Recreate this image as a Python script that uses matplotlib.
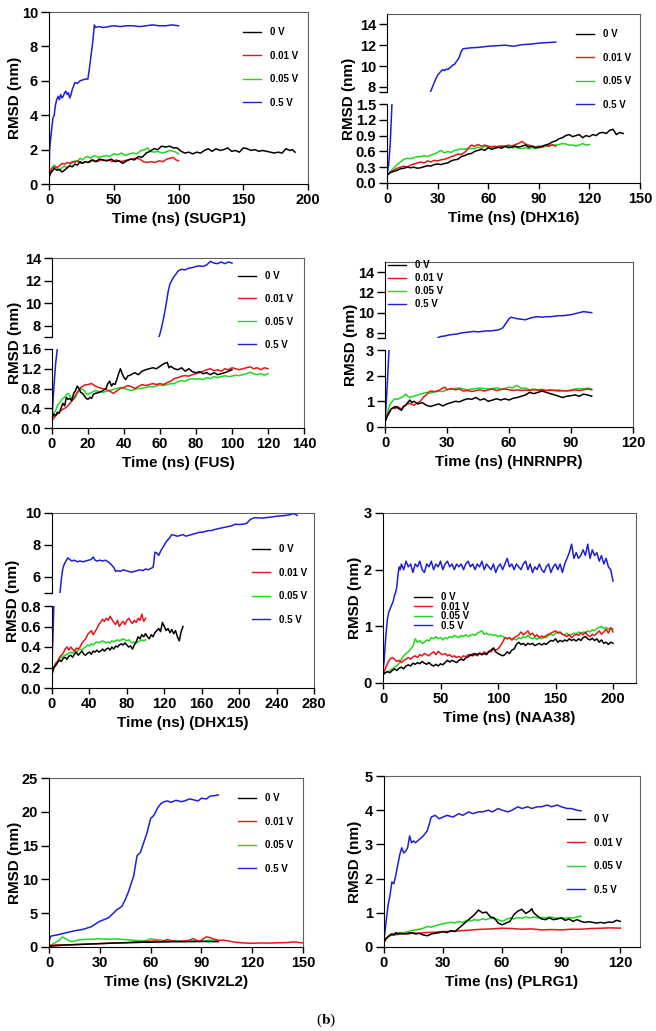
import matplotlib.pyplot as plt
from matplotlib.lines import Line2D

plt.rcParams['font.family'] = ['Liberation Sans', 'DejaVu Sans']
plt.rcParams['font.weight'] = 'bold'
plt.rcParams['axes.labelweight'] = 'bold'
plt.rcParams['mathtext.fontset'] = 'stix'

W, H = 656, 1031

LABELS = ['0 V', '0.01 V', '0.05 V', '0.5 V']
COLORS = ['#000000', '#e8141c', '#1fd81f', '#1f1fd8']

# ---- data: (time ns, RMSD nm) ----
sugp1_0v = [(0,0.35),(1,0.6),(2,0.7),(4,0.9),(6,0.8),(8,0.85),(10,0.7),(12,0.8),(14,0.95),(16,1.05),(18,1.0),(20,1.15),(22,1.1),(24,1.3),(26,1.2),(28,1.3),(30,1.25),(33,1.4),(36,1.3),(39,1.45),(42,1.4),(45,1.35),(48,1.45),(51,1.3),(54,1.35),(57,1.2),(60,1.35),(63,1.45),(66,1.4),(69,1.6),(72,1.55),(75,1.8),(78,1.9),(81,2.05),(84,2.0),(87,2.2),(90,2.15),(93,2.2),(96,2.1),(99,2.1),(102,1.9),(105,1.8),(108,1.85),(111,1.75),(114,1.85),(117,1.8),(120,1.95),(123,2.05),(126,1.9),(129,2.05),(132,1.95),(135,2.0),(138,2.1),(141,1.9),(144,1.95),(147,1.85),(150,2.1),(153,2.05),(156,1.95),(159,2.0),(162,1.9),(165,1.95),(168,1.9),(171,1.85),(174,1.8),(177,1.85),(180,1.8),(183,2.05),(186,1.95),(188,2.0),(190,1.85)]
sugp1_001v = [(0,0.45),(2,0.9),(4,1.0),(6,0.95),(8,1.05),(10,1.2),(12,1.15),(14,1.25),(16,1.2),(18,1.3),(20,1.25),(22,1.35),(25,1.2),(28,1.3),(31,1.25),(34,1.4),(37,1.3),(40,1.4),(43,1.35),(46,1.4),(49,1.3),(52,1.4),(55,1.3),(58,1.35),(61,1.4),(64,1.45),(67,1.5),(70,1.45),(73,1.3),(76,1.25),(79,1.3),(82,1.25),(85,1.35),(88,1.3),(91,1.45),(94,1.5),(96,1.55),(98,1.4),(100,1.35)]
sugp1_005v = [(0,0.4),(2,0.9),(4,1.1),(6,0.95),(8,0.8),(10,0.95),(12,1.05),(14,0.9),(16,1.1),(18,1.25),(20,1.35),(22,1.3),(24,1.5),(26,1.4),(28,1.55),(30,1.6),(32,1.5),(35,1.65),(38,1.55),(41,1.6),(44,1.65),(47,1.6),(50,1.75),(53,1.7),(56,1.8),(59,1.65),(62,1.75),(65,1.8),(68,1.75),(71,1.95),(74,2.0),(76,2.1),(78,1.9),(81,1.85),(84,1.9),(87,1.8),(90,1.85),(93,1.95),(96,1.9),(98,1.85),(100,1.75)]
sugp1_05v = [(0,0.3),(0.5,2.0),(1.5,2.8),(3,3.8),(4,4.0),(5,4.6),(6,4.9),(7,5.1),(8,4.9),(9,5.2),(10,5.0),(11,5.1),(12,5.3),(13,5.4),(14,5.2),(15,5.3),(16,5.0),(17,5.2),(18,5.5),(19,5.7),(20,5.9),(22,5.85),(24,6.0),(26,6.05),(28,6.1),(30,6.1),(31,6.6),(32,7.2),(33,7.8),(34,8.4),(35,9.25),(36,9.1),(38,9.15),(42,9.1),(46,9.15),(50,9.2),(55,9.15),(60,9.2),(65,9.2),(70,9.15),(75,9.2),(80,9.25),(85,9.2),(90,9.2),(95,9.25),(100,9.2)]

dhx16_0v = [(0,0.15),(2,0.2),(4,0.22),(6,0.24),(8,0.27),(10,0.28),(12,0.3),(14,0.29),(16,0.3),(18,0.28),(20,0.29),(22,0.31),(24,0.33),(26,0.32),(28,0.35),(30,0.36),(32,0.35),(34,0.37),(36,0.38),(38,0.42),(40,0.44),(42,0.45),(44,0.5),(46,0.52),(48,0.55),(50,0.56),(52,0.6),(54,0.62),(56,0.64),(58,0.62),(60,0.67),(62,0.64),(64,0.66),(66,0.68),(68,0.66),(70,0.7),(72,0.67),(74,0.68),(76,0.7),(78,0.68),(80,0.7),(82,0.72),(84,0.68),(86,0.7),(88,0.67),(90,0.68),(92,0.7),(94,0.72),(96,0.74),(98,0.78),(100,0.8),(102,0.84),(104,0.86),(106,0.9),(108,0.92),(110,0.88),(112,0.9),(114,0.92),(116,0.86),(118,0.9),(120,0.88),(122,0.92),(124,0.9),(126,0.95),(128,0.96),(130,0.94),(132,1.0),(134,1.02),(136,0.92),(138,0.96),(140,0.94)]
dhx16_001v = [(0,0.15),(2,0.2),(4,0.24),(6,0.28),(8,0.3),(10,0.32),(12,0.3),(14,0.34),(16,0.36),(18,0.38),(20,0.4),(22,0.38),(24,0.42),(26,0.4),(28,0.43),(30,0.42),(32,0.44),(34,0.45),(36,0.47),(38,0.5),(40,0.52),(42,0.55),(44,0.54),(46,0.58),(48,0.65),(50,0.72),(52,0.7),(54,0.73),(56,0.7),(58,0.72),(60,0.7),(62,0.68),(64,0.7),(66,0.67),(68,0.7),(70,0.69),(72,0.72),(74,0.7),(76,0.73),(78,0.75),(80,0.79),(82,0.74),(84,0.72),(86,0.7),(88,0.68),(90,0.7),(92,0.68),(94,0.72),(96,0.7),(98,0.73),(100,0.7)]
dhx16_005v = [(0,0.15),(2,0.22),(4,0.28),(6,0.35),(8,0.4),(10,0.45),(12,0.47),(14,0.46),(16,0.48),(18,0.5),(20,0.5),(22,0.52),(24,0.5),(26,0.53),(28,0.55),(30,0.58),(32,0.62),(34,0.57),(36,0.6),(38,0.58),(40,0.62),(42,0.63),(44,0.65),(46,0.64),(48,0.66),(50,0.65),(52,0.66),(54,0.68),(56,0.66),(58,0.7),(60,0.68),(62,0.7),(64,0.67),(66,0.7),(68,0.71),(70,0.69),(72,0.7),(74,0.67),(76,0.68),(78,0.66),(80,0.65),(82,0.67),(84,0.65),(86,0.67),(88,0.65),(90,0.67),(92,0.68),(94,0.7),(96,0.7),(98,0.72),(100,0.72),(102,0.73),(104,0.75),(106,0.74),(108,0.72),(110,0.72),(112,0.7),(114,0.72),(116,0.75),(118,0.72),(120,0.73)]
dhx16_05v = [(0,0.15),(1,0.35),(2,0.8),(3,1.55),(26,7.58),(27,8.0),(28,8.4),(29,8.8),(30,9.1),(31,9.3),(32,9.5),(33,9.65),(34,9.55),(35,9.7),(36,9.65),(37,9.8),(38,9.9),(39,10.1),(40,10.15),(41,10.4),(42,10.6),(43,10.9),(44,11.4),(45,11.65),(47,11.7),(50,11.75),(55,11.8),(60,11.9),(65,11.95),(70,12.0),(75,11.9),(80,12.05),(85,12.1),(90,12.2),(95,12.25),(100,12.3)]

fus_0v = [(0,0.2),(1,0.28),(2,0.25),(3,0.32),(4,0.3),(5,0.4),(6,0.5),(7,0.45),(8,0.62),(9,0.58),(10,0.6),(11,0.55),(12,0.7),(13,0.75),(14,0.85),(15,0.8),(16,0.72),(17,0.7),(18,0.65),(19,0.6),(20,0.58),(21,0.62),(22,0.6),(23,0.68),(24,0.7),(26,0.72),(28,0.75),(30,0.8),(31,0.9),(32,0.95),(33,0.85),(34,0.9),(35,0.88),(36,0.98),(37,1.1),(38,1.2),(39,1.1),(40,1.02),(41,0.98),(42,1.05),(44,1.08),(46,1.12),(48,1.08),(50,1.15),(52,1.18),(54,1.2),(56,1.22),(58,1.2),(60,1.25),(62,1.3),(64,1.33),(65,1.22),(66,1.25),(68,1.2),(70,1.18),(72,1.22),(74,1.15),(76,1.2),(78,1.14),(80,1.12),(82,1.14),(84,1.1),(86,1.12),(88,1.08),(90,1.12),(92,1.08),(94,1.1),(96,1.12),(98,1.15),(100,1.18)]
fus_001v = [(0,0.15),(2,0.25),(4,0.32),(6,0.38),(8,0.42),(10,0.5),(12,0.6),(14,0.72),(16,0.82),(18,0.87),(20,0.88),(22,0.9),(24,0.85),(26,0.82),(28,0.8),(30,0.78),(32,0.75),(34,0.7),(36,0.75),(38,0.8),(40,0.82),(42,0.86),(44,0.84),(46,0.8),(48,0.84),(50,0.88),(52,0.86),(54,0.88),(56,0.9),(58,0.88),(60,0.9),(62,0.88),(64,0.92),(66,0.95),(68,1.0),(70,1.02),(72,1.05),(74,1.06),(76,1.05),(78,1.08),(80,1.1),(82,1.12),(84,1.15),(86,1.18),(88,1.2),(90,1.16),(92,1.18),(94,1.15),(96,1.2),(98,1.18),(100,1.22),(102,1.2),(104,1.18),(106,1.2),(108,1.22),(110,1.24),(112,1.2),(114,1.22),(116,1.18),(118,1.22),(120,1.2)]
fus_005v = [(0,0.2),(1,0.3),(2,0.35),(3,0.45),(4,0.5),(5,0.55),(6,0.6),(7,0.62),(8,0.68),(9,0.7),(10,0.65),(11,0.6),(12,0.58),(13,0.62),(14,0.7),(15,0.75),(16,0.8),(17,0.78),(18,0.76),(19,0.7),(20,0.68),(22,0.72),(24,0.76),(26,0.74),(28,0.72),(30,0.74),(32,0.76),(34,0.78),(36,0.8),(38,0.82),(40,0.8),(42,0.78),(44,0.76),(46,0.78),(48,0.8),(50,0.8),(52,0.82),(54,0.84),(56,0.83),(58,0.85),(60,0.87),(62,0.86),(64,0.88),(66,0.9),(68,0.9),(70,0.94),(72,0.96),(74,0.95),(76,0.98),(78,1.0),(80,0.99),(82,1.0),(84,0.98),(86,1.02),(88,1.0),(90,1.04),(92,1.02),(94,1.04),(96,1.06),(98,1.04),(100,1.05),(102,1.07),(104,1.06),(106,1.08),(108,1.1),(110,1.13),(112,1.1),(114,1.08),(116,1.1),(118,1.07),(120,1.1)]
fus_05v = [(0,0.2),(1,0.8),(2,1.3),(3,1.62),(59.5,7.0),(60.5,7.6),(61.5,8.3),(62.5,9.1),(63.5,10.0),(64.5,11.0),(65.5,11.7),(66.5,12.0),(68,12.4),(69,12.6),(70,12.85),(72,13.0),(74,12.95),(76,13.1),(78,13.15),(80,13.25),(82,13.3),(84,13.25),(86,13.4),(88,13.7),(90,13.55),(92,13.5),(94,13.65),(96,13.5),(98,13.65),(100,13.55)]

hnrnpr_0v = [(0,0.2),(1,0.4),(2,0.55),(3,0.7),(4,0.75),(5,0.8),(6,0.75),(7,0.7),(8,0.65),(9,0.8),(10,0.85),(11,0.95),(12,1.05),(13,0.95),(14,1.0),(15,0.95),(16,0.9),(18,0.95),(20,0.85),(22,0.8),(24,0.85),(26,0.9),(28,0.82),(30,0.9),(32,0.95),(34,1.0),(36,0.98),(38,1.05),(40,1.1),(42,1.08),(44,1.15),(46,1.05),(48,1.1),(50,1.0),(52,1.05),(54,1.1),(56,1.05),(58,1.1),(60,1.05),(62,1.12),(64,1.15),(66,1.2),(68,1.25),(70,1.35),(72,1.3),(74,1.35),(76,1.4),(78,1.35),(80,1.3),(82,1.25),(84,1.2),(86,1.15),(88,1.2),(90,1.22),(92,1.25),(94,1.2),(96,1.28),(98,1.25),(100,1.2)]
hnrnpr_001v = [(0,0.2),(1,0.45),(2,0.6),(3,0.7),(4,0.75),(5,0.72),(6,0.8),(7,0.75),(8,0.7),(9,0.8),(10,0.85),(11,0.9),(12,0.92),(13,0.88),(14,0.85),(15,0.9),(16,0.95),(17,1.0),(18,1.1),(19,1.2),(20,1.25),(21,1.35),(22,1.4),(24,1.38),(26,1.42),(28,1.52),(29,1.55),(30,1.45),(32,1.5),(34,1.45),(36,1.48),(38,1.4),(40,1.42),(42,1.38),(44,1.42),(46,1.45),(48,1.4),(50,1.45),(52,1.48),(54,1.42),(56,1.46),(58,1.48),(60,1.45),(62,1.42),(64,1.45),(66,1.42),(68,1.44),(70,1.42),(72,1.45),(74,1.43),(76,1.45),(78,1.42),(80,1.44),(82,1.42),(84,1.4),(86,1.42),(88,1.4),(90,1.42),(92,1.45),(94,1.42),(96,1.45),(98,1.48),(100,1.45)]
hnrnpr_005v = [(0,0.2),(1,0.5),(2,0.8),(3,0.95),(4,1.05),(5,1.1),(6,1.08),(7,1.12),(8,1.15),(9,1.2),(10,1.28),(11,1.2),(12,1.15),(13,1.18),(14,1.2),(15,1.22),(16,1.25),(17,1.28),(18,1.3),(20,1.35),(22,1.32),(24,1.36),(26,1.4),(28,1.38),(30,1.45),(32,1.48),(34,1.5),(36,1.52),(38,1.48),(40,1.45),(42,1.48),(44,1.5),(46,1.52),(48,1.5),(50,1.48),(52,1.5),(54,1.52),(56,1.48),(58,1.5),(60,1.55),(62,1.52),(63,1.6),(64,1.62),(65,1.55),(66,1.5),(68,1.52),(70,1.45),(72,1.48),(74,1.45),(76,1.47),(78,1.42),(80,1.45),(82,1.43),(84,1.45),(86,1.4),(88,1.42),(90,1.44),(92,1.48),(94,1.5),(96,1.48),(98,1.52),(100,1.48)]
hnrnpr_05v = [(0,0.2),(0.5,0.8),(1,1.5),(1.5,2.3),(2,3.05),(25.8,7.55),(27,7.65),(29,7.7),(31,7.8),(33,7.85),(35,7.9),(37,8.0),(39,8.05),(41,8.1),(43,8.15),(45,8.1),(47,8.15),(49,8.2),(51,8.2),(53,8.25),(55,8.3),(57,8.5),(58,8.8),(59,9.1),(60,9.4),(61,9.55),(62,9.5),(64,9.4),(66,9.35),(68,9.3),(70,9.45),(72,9.55),(74,9.6),(76,9.55),(78,9.6),(80,9.6),(82,9.65),(84,9.7),(86,9.7),(88,9.75),(90,9.8),(92,9.9),(94,10.0),(96,10.1),(98,10.05),(100,10.0)]

dhx15_0v = [(0,0.13),(2,0.2),(4,0.22),(6,0.25),(8,0.27),(10,0.26),(12,0.29),(14,0.3),(16,0.28),(18,0.31),(20,0.32),(22,0.3),(24,0.33),(26,0.35),(28,0.32),(30,0.34),(32,0.36),(34,0.33),(36,0.32),(38,0.34),(40,0.35),(42,0.33),(44,0.36),(46,0.35),(48,0.37),(50,0.35),(52,0.36),(54,0.38),(56,0.36),(58,0.38),(60,0.39),(62,0.37),(64,0.4),(66,0.38),(68,0.41),(70,0.4),(72,0.42),(74,0.43),(76,0.42),(78,0.44),(80,0.42),(82,0.4),(84,0.41),(86,0.38),(88,0.42),(90,0.45),(92,0.5),(94,0.48),(96,0.52),(98,0.5),(100,0.53),(102,0.5),(104,0.48),(106,0.52),(108,0.5),(110,0.54),(112,0.56),(114,0.58),(116,0.55),(118,0.64),(120,0.6),(122,0.56),(124,0.58),(126,0.54),(128,0.57),(130,0.53),(132,0.56),(134,0.5),(136,0.46),(138,0.55),(140,0.6)]
dhx15_001v = [(0,0.15),(2,0.2),(4,0.24),(6,0.26),(8,0.3),(10,0.32),(12,0.34),(14,0.38),(16,0.4),(18,0.37),(20,0.4),(22,0.38),(24,0.36),(26,0.39),(28,0.38),(30,0.4),(32,0.44),(34,0.46),(36,0.48),(38,0.52),(40,0.54),(42,0.56),(44,0.52),(46,0.55),(48,0.58),(50,0.62),(52,0.64),(54,0.67),(56,0.65),(58,0.68),(60,0.66),(62,0.7),(64,0.67),(66,0.64),(68,0.62),(70,0.66),(72,0.6),(74,0.63),(76,0.65),(78,0.62),(80,0.66),(82,0.68),(84,0.65),(86,0.63),(88,0.66),(90,0.64),(92,0.68),(94,0.66),(96,0.72),(98,0.65),(100,0.68)]
dhx15_005v = [(0,0.15),(2,0.2),(4,0.24),(6,0.26),(8,0.28),(10,0.3),(12,0.31),(14,0.32),(16,0.33),(18,0.34),(20,0.35),(22,0.34),(24,0.36),(26,0.35),(28,0.37),(30,0.38),(32,0.37),(34,0.39),(36,0.4),(38,0.42),(40,0.41),(42,0.43),(44,0.42),(46,0.44),(48,0.45),(50,0.44),(52,0.45),(54,0.46),(56,0.45),(58,0.44),(60,0.45),(62,0.44),(64,0.46),(66,0.45),(68,0.46),(70,0.47),(72,0.46),(74,0.47),(76,0.48),(78,0.47),(80,0.46),(82,0.47),(84,0.45),(86,0.44),(88,0.45),(90,0.44),(92,0.45),(94,0.46),(96,0.47),(98,0.46),(100,0.47)]
dhx15_05v = [(0,0.25),(1,0.5),(2,0.82),(8.5,4.95),(9.5,5.6),(10.5,6.1),(11.5,6.5),(13,6.8),(15,7.0),(17,7.2),(19,7.1),(21,7.0),(24,7.05),(27,6.95),(30,7.0),(33,6.95),(36,7.0),(39,7.05),(42,7.1),(44,7.25),(46,7.05),(48,7.0),(51,7.05),(54,7.0),(57,7.05),(60,6.95),(63,6.8),(66,6.6),(68,6.35),(70,6.4),(73,6.35),(76,6.45),(79,6.4),(82,6.35),(85,6.3),(88,6.35),(91,6.4),(94,6.45),(97,6.4),(100,6.5),(103,6.45),(106,6.55),(108,6.6),(109,7.0),(110,7.55),(112,7.5),(114,7.35),(116,7.6),(118,7.8),(120,8.0),(122,8.2),(125,8.4),(128,8.65),(131,8.6),(134,8.55),(137,8.6),(140,8.65),(143,8.55),(146,8.6),(149,8.65),(152,8.7),(155,8.75),(158,8.8),(161,8.8),(164,8.85),(167,8.9),(170,8.9),(173,8.95),(176,9.0),(180,9.05),(184,9.1),(188,9.15),(192,9.2),(196,9.3),(200,9.28),(204,9.3),(208,9.35),(212,9.6),(216,9.7),(220,9.7),(225,9.68),(230,9.72),(235,9.75),(240,9.8),(245,9.82),(250,9.85),(255,9.9),(258,9.98),(262,9.85)]

naa38_0v = [(0,0.15),(2,0.18),(4,0.2),(6,0.18),(8,0.22),(10,0.25),(12,0.22),(14,0.26),(16,0.28),(18,0.25),(20,0.3),(22,0.32),(24,0.3),(26,0.35),(28,0.33),(30,0.36),(32,0.34),(34,0.38),(36,0.35),(38,0.33),(40,0.36),(42,0.32),(44,0.3),(46,0.33),(48,0.3),(50,0.34),(52,0.32),(54,0.36),(56,0.4),(58,0.37),(60,0.4),(62,0.38),(64,0.36),(66,0.4),(68,0.42),(70,0.4),(72,0.44),(74,0.46),(76,0.5),(78,0.48),(80,0.52),(82,0.5),(84,0.53),(86,0.5),(88,0.52),(90,0.5),(92,0.55),(94,0.58),(96,0.62),(98,0.55),(100,0.52),(102,0.5),(104,0.48),(106,0.5),(108,0.55),(110,0.52),(112,0.58),(114,0.6),(116,0.68),(118,0.72),(120,0.68),(122,0.7),(124,0.66),(126,0.7),(128,0.68),(130,0.7),(132,0.66),(134,0.68),(136,0.7),(138,0.67),(140,0.7),(142,0.68),(144,0.72),(146,0.75),(148,0.74),(150,0.78),(152,0.72),(154,0.75),(156,0.73),(158,0.76),(160,0.74),(162,0.78),(164,0.75),(166,0.77),(168,0.74),(170,0.78),(172,0.75),(174,0.8),(176,0.82),(178,0.78),(180,0.76),(182,0.79),(184,0.75),(186,0.78),(188,0.72),(190,0.76),(192,0.7),(194,0.72),(196,0.68),(198,0.72),(200,0.7)]
naa38_001v = [(0,0.12),(2,0.25),(4,0.35),(6,0.42),(8,0.45),(10,0.42),(12,0.38),(14,0.4),(16,0.36),(18,0.4),(20,0.42),(22,0.45),(24,0.42),(26,0.46),(28,0.48),(30,0.45),(32,0.5),(34,0.48),(36,0.52),(38,0.5),(40,0.48),(42,0.52),(44,0.55),(46,0.5),(48,0.56),(50,0.52),(52,0.5),(54,0.52),(56,0.48),(58,0.5),(60,0.46),(62,0.48),(64,0.45),(66,0.47),(68,0.44),(70,0.48),(72,0.46),(74,0.5),(76,0.48),(78,0.52),(80,0.5),(82,0.48),(84,0.52),(86,0.5),(88,0.55),(90,0.52),(92,0.56),(94,0.55),(96,0.6),(98,0.58),(100,0.6),(102,0.65),(104,0.72),(106,0.8),(108,0.78),(110,0.8),(112,0.76),(114,0.8),(116,0.82),(118,0.85),(120,0.9),(122,0.85),(124,0.88),(126,0.92),(128,0.85),(130,0.88),(132,0.82),(134,0.85),(136,0.8),(138,0.83),(140,0.8),(142,0.84),(144,0.86),(146,0.88),(148,0.9),(150,0.92),(152,0.88),(154,0.9),(156,0.86),(158,0.84),(160,0.82),(162,0.85),(164,0.8),(166,0.84),(168,0.86),(170,0.84),(172,0.88),(174,0.85),(176,0.9),(178,0.84),(180,0.82),(182,0.86),(184,0.84),(186,0.88),(188,0.92),(190,0.86),(192,0.9),(194,0.95),(196,0.88),(198,0.98),(200,0.9)]
naa38_005v = [(0,0.15),(2,0.18),(4,0.2),(6,0.22),(8,0.25),(10,0.28),(12,0.3),(14,0.35),(16,0.42),(18,0.48),(20,0.52),(22,0.55),(24,0.6),(26,0.65),(28,0.78),(30,0.72),(32,0.75),(34,0.7),(36,0.72),(38,0.76),(40,0.74),(42,0.8),(44,0.78),(46,0.82),(48,0.78),(50,0.8),(52,0.76),(54,0.8),(56,0.78),(58,0.82),(60,0.8),(62,0.84),(64,0.82),(66,0.8),(68,0.84),(70,0.82),(72,0.85),(74,0.82),(76,0.84),(78,0.86),(80,0.84),(82,0.88),(84,0.9),(86,0.92),(88,0.86),(90,0.88),(92,0.85),(94,0.86),(96,0.84),(98,0.85),(100,0.82),(102,0.84),(104,0.82),(106,0.8),(108,0.78),(110,0.8),(112,0.76),(114,0.78),(116,0.76),(118,0.8),(120,0.78),(122,0.82),(124,0.8),(126,0.84),(128,0.8),(130,0.78),(132,0.8),(134,0.77),(136,0.8),(138,0.78),(140,0.82),(142,0.8),(144,0.84),(146,0.86),(148,0.84),(150,0.88),(152,0.9),(154,0.88),(156,0.86),(158,0.85),(160,0.88),(162,0.84),(164,0.86),(166,0.88),(168,0.86),(170,0.9),(172,0.88),(174,0.9),(176,0.88),(178,0.92),(180,0.9),(182,0.94),(184,0.92),(186,0.96),(188,0.98),(190,1.0),(192,0.96),(194,0.98),(196,0.95),(198,0.97),(200,0.95)]
naa38_05v = [(0,0.2),(1,0.4),(2,0.7),(3,0.95),(4,1.15),(5,1.25),(6,1.3),(7,1.35),(8,1.4),(9,1.45),(10,1.55),(11,1.6),(12,1.7),(13,1.9),(14,2.05),(15,2.0),(16,2.1),(18,2.0),(20,2.15),(22,2.05),(24,2.1),(26,1.95),(28,2.1),(30,2.05),(32,2.15),(34,2.0),(36,1.95),(38,2.1),(40,2.05),(42,2.15),(44,2.0),(46,2.1),(48,2.05),(50,2.15),(52,2.0),(54,2.1),(56,2.15),(58,2.05),(60,2.1),(62,2.0),(64,2.1),(66,2.05),(68,2.1),(70,2.0),(72,2.1),(74,2.15),(76,2.05),(78,2.1),(80,2.0),(82,2.1),(84,2.05),(86,2.15),(88,2.0),(90,2.1),(92,2.05),(94,2.0),(96,2.1),(98,1.95),(100,2.05),(102,2.1),(104,2.0),(106,2.1),(108,2.2),(110,2.05),(112,2.1),(114,2.0),(116,2.1),(118,2.05),(120,2.0),(122,2.1),(124,2.15),(126,2.0),(128,2.1),(130,1.95),(132,2.05),(134,2.0),(136,2.1),(138,2.0),(140,1.95),(142,2.05),(144,2.1),(146,1.95),(148,2.05),(150,2.1),(152,2.0),(154,2.1),(156,1.95),(158,2.1),(160,2.2),(162,2.3),(164,2.45),(166,2.2),(168,2.3),(170,2.2),(172,2.25),(174,2.35),(176,2.25),(178,2.45),(180,2.2),(182,2.35),(184,2.25),(186,2.3),(188,2.15),(190,2.25),(192,2.1),(194,2.2),(196,2.05),(198,2.0),(200,1.8)]

skiv_0v = [(0,0.1),(5,0.2),(10,0.3),(15,0.35),(20,0.4),(25,0.45),(30,0.5),(35,0.55),(40,0.6),(45,0.62),(50,0.65),(55,0.7),(60,0.7),(65,0.75),(70,0.75),(75,0.8),(80,0.78),(85,0.8),(90,0.82),(95,0.8),(100,0.8)]
skiv_001v = [(0,0.2),(3,0.3),(6,0.35),(10,0.3),(15,0.35),(20,0.4),(25,0.45),(30,0.5),(35,0.55),(40,0.6),(45,0.65),(50,0.75),(55,0.8),(60,0.85),(63,0.9),(66,0.8),(70,1.1),(73,0.9),(76,0.8),(80,0.9),(83,1.0),(85,1.25),(87,1.0),(89,0.8),(91,1.2),(93,1.5),(95,1.4),(97,1.2),(100,1.0),(103,1.0),(106,0.9),(110,0.7),(115,0.6),(120,0.55),(125,0.6),(130,0.58),(135,0.62),(140,0.65),(145,0.75),(150,0.6)]
skiv_005v = [(0,0.2),(2,0.4),(4,0.7),(6,1.0),(8,1.5),(10,1.2),(12,0.9),(14,0.8),(16,0.95),(18,1.05),(20,1.1),(25,1.15),(30,1.2),(35,1.15),(40,1.2),(45,1.1),(50,1.0),(55,0.9),(58,1.0),(60,1.2),(63,1.1),(66,1.0),(70,0.9),(75,0.9),(80,0.85),(85,0.9),(90,0.85),(95,1.0),(100,0.9)]
skiv_05v = [(0,0.8),(1,1.6),(5,1.8),(10,2.1),(15,2.4),(20,2.6),(25,3.0),(28,3.5),(30,3.8),(33,4.1),(35,4.3),(38,5.0),(40,5.5),(43,6.0),(45,7.0),(47,8.2),(48,9.0),(50,10.5),(51,12.0),(52,13.5),(54,14.0),(56,15.5),(58,17.0),(60,19.0),(62,19.5),(64,20.5),(66,21.2),(68,21.5),(70,21.6),(72,21.4),(75,21.7),(78,21.5),(80,21.6),(83,21.9),(85,21.8),(88,21.6),(90,22.0),(93,21.9),(95,22.3),(98,22.4),(100,22.5)]

plrg1_0v = [(0,0.15),(1,0.25),(2,0.3),(3,0.35),(4,0.38),(5,0.35),(6,0.42),(7,0.38),(8,0.4),(10,0.38),(12,0.4),(14,0.42),(16,0.38),(18,0.4),(20,0.35),(22,0.33),(24,0.38),(26,0.4),(28,0.42),(30,0.45),(32,0.42),(34,0.48),(36,0.45),(38,0.55),(40,0.65),(42,0.75),(44,0.85),(46,0.95),(48,1.08),(50,1.0),(52,1.02),(54,0.88),(56,0.85),(58,0.7),(60,0.65),(62,0.7),(64,0.75),(66,0.95),(68,1.05),(70,1.1),(72,0.98),(74,1.05),(75,1.12),(76,1.0),(78,0.9),(80,0.82),(82,0.8),(84,0.85),(86,0.8),(88,0.82),(90,0.85),(92,0.78),(94,0.82),(96,0.75),(98,0.8),(100,0.75),(102,0.72),(104,0.74),(106,0.72),(108,0.7),(110,0.72),(112,0.7),(114,0.73),(116,0.72),(118,0.78),(120,0.75)]
plrg1_001v = [(0,0.15),(2,0.3),(4,0.35),(6,0.36),(8,0.38),(10,0.4),(12,0.38),(14,0.4),(16,0.41),(18,0.4),(20,0.42),(25,0.43),(30,0.45),(35,0.46),(40,0.48),(45,0.5),(50,0.52),(55,0.53),(60,0.55),(65,0.54),(70,0.52),(75,0.53),(80,0.5),(85,0.51),(90,0.5),(95,0.52),(100,0.52),(105,0.54),(110,0.55),(115,0.56),(120,0.55)]
plrg1_005v = [(0,0.15),(2,0.3),(4,0.38),(6,0.4),(8,0.42),(10,0.42),(12,0.45),(14,0.48),(16,0.5),(18,0.52),(20,0.55),(22,0.6),(24,0.58),(26,0.62),(28,0.65),(30,0.68),(32,0.7),(34,0.72),(36,0.7),(38,0.75),(40,0.72),(42,0.78),(44,0.76),(46,0.8),(48,0.78),(50,0.82),(52,0.8),(54,0.85),(56,0.82),(58,0.8),(60,0.75),(62,0.8),(64,0.85),(66,0.82),(68,0.86),(70,0.84),(72,0.88),(74,0.85),(76,0.88),(78,0.85),(80,0.87),(82,0.85),(84,0.88),(86,0.86),(88,0.84),(90,0.86),(92,0.84),(94,0.86),(96,0.85),(98,0.88),(100,0.9)]
plrg1_05v = [(0,0.2),(1,0.7),(2,1.2),(3,1.5),(4,1.9),(5,1.85),(6,2.1),(7,2.4),(8,2.7),(9,2.9),(10,2.75),(11,2.8),(12,2.9),(13,3.25),(14,3.05),(15,3.1),(16,3.05),(18,3.15),(20,3.25),(22,3.4),(23,3.6),(24,3.8),(26,3.85),(28,3.75),(30,3.8),(32,3.85),(35,3.8),(38,3.9),(40,3.85),(43,3.95),(45,3.9),(48,3.95),(50,3.95),(53,4.0),(55,3.95),(58,4.05),(60,4.0),(63,3.95),(65,4.0),(68,4.1),(70,4.05),(73,4.1),(75,4.05),(78,4.1),(80,4.1),(83,4.15),(85,4.1),(88,4.15),(90,4.1),(93,4.05),(95,4.05),(98,4.0),(100,3.98)]

# ---- layout ----
def frac(l, t, r, b):
    return [l / W, 1 - b / H, (r - l) / W, (b - t) / H]


def plot_series(ax, series):
    # draw order: green, red, black, blue
    for i in [2, 1, 0, 3]:
        t = [p[0] for p in series[i]]
        y = [p[1] for p in series[i]]
        ax.plot(t, y, color=COLORS[i], lw=1.1)


def ticks(ax):
    ax.tick_params(direction='out', width=1, labelsize=10.5, pad=2)
    ax.tick_params(axis='x', length=4.5)
    ax.tick_params(axis='y', length=6)
    ax.tick_params(which='minor', direction='out', length=6, width=1)


def panel(box, name, series, xlim, xticks, ylim, yticks, leg, ylab_dx,
          split=None):
    l, t, r, b = box
    frame = fig.add_axes(frac(l, t, r, b))
    frame.set_xlim(0, 1)
    frame.set_ylim(0, 1)
    frame.set_xticks([])
    frame.set_yticks([])
    frame.patch.set_visible(False)
    frame.spines['top'].set_color('#606060')
    frame.spines['right'].set_color('#606060')
    frame.spines['left'].set_visible(False)
    frame.spines['bottom'].set_visible(False)

    if split is None:
        low = fig.add_axes(frac(l, t, r, b))
    else:
        up_b, low_t, ylim_u, yticks_u = split
        up = fig.add_axes(frac(l, t, r, up_b))
        low = fig.add_axes(frac(l, low_t, r, b))
        plot_series(up, series)
        up.set_xlim(*xlim)
        up.set_ylim(*ylim_u)
        up.set_yticks(yticks_u)
        up.set_yticks([ylim_u[0]], minor=True)
        up.set_xticks([])
        for s in ['top', 'right', 'bottom']:
            up.spines[s].set_visible(False)
        up.patch.set_visible(False)
        ticks(up)

    plot_series(low, series)
    low.set_xlim(*xlim)
    low.set_ylim(*ylim)
    low.set_xticks(xticks)
    low.set_yticks(yticks)
    low.spines['top'].set_visible(False)
    low.spines['right'].set_visible(False)
    low.patch.set_visible(False)
    ticks(low)

    hpx = b - (split[1] if split else t)
    low.set_xlabel('Time (ns) (%s)' % name, fontsize=11)
    low.xaxis.set_label_coords(0.5, -28 / hpx)

    frame.set_ylabel('RMSD (nm)', fontsize=11)
    frame.yaxis.set_label_coords(-(ylab_dx - 6.5) / (r - l), 0.5)

    lx, ly, ls = leg
    handles = [Line2D([], [], color=c, lw=1) for c in COLORS]
    frame.legend(handles, LABELS, loc='upper left', bbox_to_anchor=(lx, ly),
                 frameon=False, fontsize=7, handlelength=1.85,
                 handletextpad=0.9, labelspacing=ls, borderpad=0,
                 borderaxespad=0)


fig = plt.figure(figsize=(W / 100, H / 100), dpi=100)

panel((49, 12, 308, 184), 'SUGP1',
      [sugp1_0v, sugp1_001v, sugp1_005v, sugp1_05v],
      (0, 200), range(0, 201, 50), (0, 10), range(0, 11, 2),
      (0.75, 0.913, 1.4), 33)

panel((387, 14, 640, 183), 'DHX16',
      [dhx16_0v, dhx16_001v, dhx16_005v, dhx16_05v],
      (0, 150), range(0, 151, 30), (0, 1.5), [0, 0.3, 0.6, 0.9, 1.2, 1.5],
      (0.747, 0.911, 1.4), 37,
      split=(92, 104, (7.5, 15), [8, 10, 12, 14]))

panel((52, 258, 304, 428), 'FUS',
      [fus_0v, fus_001v, fus_005v, fus_05v],
      (0, 140), range(0, 141, 20), (0, 1.6), [0, 0.4, 0.8, 1.2, 1.6],
      (0.738, 0.924, 1.33), 37,
      split=(337, 349, (7, 14), [8, 10, 12, 14]))

panel((385, 262, 633, 427), 'HNRNPR',
      [hnrnpr_0v, hnrnpr_001v, hnrnpr_005v, hnrnpr_05v],
      (0, 120), range(0, 121, 30), (0, 3), [0, 1, 2, 3],
      (0.012, 1.01, 0.3), 34,
      split=(338, 350, (7.5, 15), [8, 10, 12, 14]))

panel((52, 513, 314, 688), 'DHX15',
      [dhx15_0v, dhx15_001v, dhx15_005v, dhx15_05v],
      (0, 280), range(0, 281, 40), (0, 0.8), [0, 0.2, 0.4, 0.6, 0.8],
      (0.763, 0.823, 1.4), 38,
      split=(593, 606, (5, 10), [6, 8, 10]))

panel((383, 513, 636, 683), 'NAA38',
      [naa38_0v, naa38_001v, naa38_005v, naa38_05v],
      (0, 220), range(0, 201, 50), (0, 3), [0, 1, 2, 3],
      (0.123, 0.535, -0.05), 27)

panel((49, 778, 303, 947), 'SKIV2L2',
      [skiv_0v, skiv_001v, skiv_005v, skiv_05v],
      (0, 150), range(0, 151, 30), (0, 25), range(0, 26, 5),
      (0.744, 0.911, 1.4), 33)

panel((384, 776, 640, 947), 'PLRG1',
      [plrg1_0v, plrg1_001v, plrg1_005v, plrg1_05v],
      (0, 130), range(0, 121, 30), (0, 5), range(0, 6),
      (0.715, 0.778, 1.4), 28)

fig.text(326 / W, 1 - 1020 / H, r'($\mathbf{b}$)', ha='center', va='center',
         fontsize=11, family='Liberation Serif', fontweight='normal')

fig.savefig('out.png', dpi=100)
